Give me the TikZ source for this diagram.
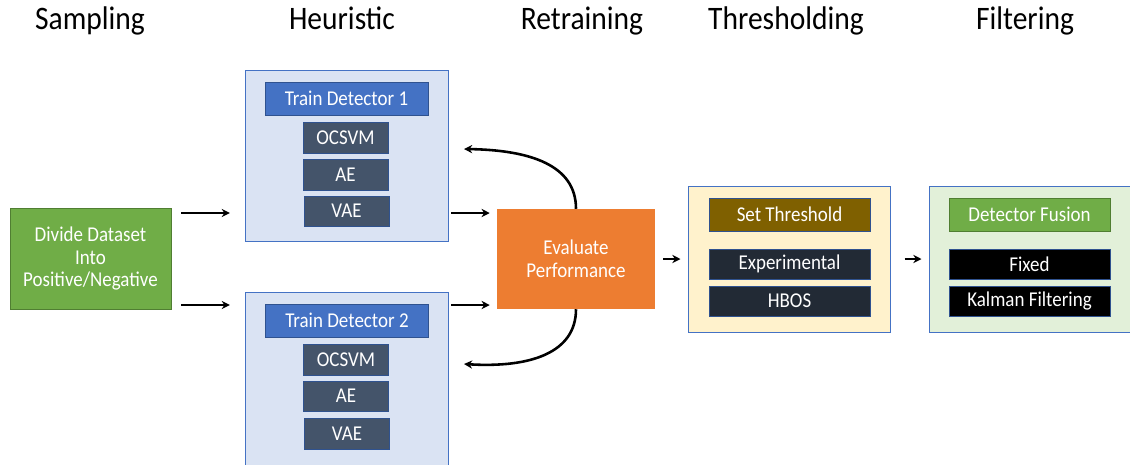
\documentclass[tikz,border=0pt]{standalone}
\usepackage{fontspec}
\setmainfont{Carlito}[FakeStretch=0.9]
\usepackage{tikz}
\usetikzlibrary{arrows.meta}

\definecolor{grn}{HTML}{70AD47}
\definecolor{grnline}{HTML}{507E32}
\definecolor{paleblue}{HTML}{DAE3F3}
\definecolor{boxblue}{HTML}{4472C4}
\definecolor{darkblue}{HTML}{2F528F}
\definecolor{slate}{HTML}{44546A}
\definecolor{orng}{HTML}{ED7D31}
\definecolor{paleyellow}{HTML}{FFF2CC}
\definecolor{gold}{HTML}{7F6000}
\definecolor{navy}{HTML}{222A35}
\definecolor{palegreen}{HTML}{E2F0D9}

\begin{document}
\begin{tikzpicture}[x=0.03cm,y=-0.03cm,
	title/.style={font=\fontsize{28}{30}\selectfont, anchor=base},
	lbl/.style={text=white, font=\fontsize{18}{19.6}\selectfont, align=center, inner sep=0pt},
	outer/.style={draw=boxblue, line width=0.8pt, inner sep=0pt},
	inner/.style={lbl, draw=darkblue, line width=0.8pt},
	arr/.style={-{Stealth[length=7pt,width=7pt]}, line width=2.2pt}]
	\useasboundingbox (0,0) rectangle (1130,464);

	% column titles
	\node[title] (tsamp) at (90,29) {Sampling};
	\node[title] (theur) at (342,29) {Heuristic};
	\node[title] (tretr) at (582,29) {Retraining};
	\node[title] (tthre) at (786,29) {Thresholding};
	\node[title] (tfilt) at (1025,29) {Filtering};

	% sampling
	\node[lbl, fill=grn, draw=grnline, line width=0.8pt, minimum width=4.83cm, minimum height=3.03cm] (divide) at (90.5,258.5) {Divide Dataset\\Into\\Positive/Negative};

	% heuristic
	\node[outer, fill=paleblue, minimum width=6.09cm, minimum height=5.13cm] (heur1) at (346.5,155.5) {};
	\node[inner, fill=boxblue, minimum width=4.89cm, minimum height=0.99cm] (td1) at (346.5,98.5) {Train Detector 1};
	\node[inner, fill=slate, minimum width=2.55cm, minimum height=0.93cm] (ocsvm1) at (345.5,137.5) {OCSVM};
	\node[inner, fill=slate, minimum width=2.55cm, minimum height=0.93cm] (ae1) at (345.5,174.5) {AE};
	\node[inner, fill=slate, minimum width=2.55cm, minimum height=0.9cm] (vae1) at (346.5,211) {VAE};

	\node[outer, fill=paleblue, minimum width=6.09cm, minimum height=5.19cm] (heur2) at (346.5,378.5) {};
	\node[inner, fill=boxblue, minimum width=4.89cm, minimum height=0.99cm] (td2) at (347,320.5) {Train Detector 2};
	\node[inner, fill=slate, minimum width=2.55cm, minimum height=0.93cm] (ocsvm2) at (346,359.5) {OCSVM};
	\node[inner, fill=slate, minimum width=2.55cm, minimum height=0.9cm] (ae2) at (346,396) {AE};
	\node[inner, fill=slate, minimum width=2.55cm, minimum height=0.93cm] (vae2) at (347,433.5) {VAE};

	% retraining
	\node[lbl, fill=orng, minimum width=4.74cm, minimum height=3cm] (eval) at (576,259) {Evaluate\\Performance};

	% thresholding
	\node[outer, fill=paleyellow, minimum width=6.06cm, minimum height=4.38cm] (thresh) at (789,259) {};
	\node[inner, fill=gold, minimum width=4.83cm, minimum height=0.99cm] (setth) at (789.5,214.5) {Set Threshold};
	\node[inner, fill=navy, minimum width=4.83cm, minimum height=0.9cm] (exper) at (789.5,264) {Experimental};
	\node[inner, fill=navy, minimum width=4.83cm, minimum height=0.9cm] (hbos) at (789.5,301) {HBOS};

	% filtering
	\node[outer, fill=palegreen, minimum width=6.06cm, minimum height=4.38cm] (filt) at (1030,259) {};
	\node[inner, fill=grn, draw=grnline, minimum width=4.83cm, minimum height=0.99cm] (fusion) at (1029.5,214.5) {Detector Fusion};
	\node[inner, fill=black, minimum width=4.83cm, minimum height=0.9cm] (fixed) at (1029.5,264) {Fixed};
	\node[inner, fill=black, minimum width=4.83cm, minimum height=0.9cm] (kalman) at (1029.5,301) {Kalman Filtering};

	% arrows
	\draw[arr, shorten <=8.5pt, shorten >=12.5pt] (divide.east |- 0,213) -- (heur1.west |- 0,213);
	\draw[arr, shorten <=8.5pt, shorten >=12.5pt] (divide.east |- 0,305) -- (heur2.west |- 0,305);
	\draw[arr, shorten <=2.5pt, shorten >=6pt] (heur1.east |- 0,213) -- (eval.west |- 0,213);
	\draw[arr, shorten <=2.5pt, shorten >=6pt] (heur2.east |- 0,305) -- (eval.west |- 0,305);
	\draw[arr, shorten <=7pt, shorten >=6pt] (eval.east |- 0,259) -- (thresh.west |- 0,259);
	\draw[arr, shorten <=12pt, shorten >=6pt] (thresh.east |- 0,259) -- (filt.west |- 0,259);

	\coordinate (back1) at (464,149);
	\coordinate (back2) at (464,364);
	\draw[arr] (eval.north) .. controls (576,165) and (530,150) .. (back1);
	\draw[arr] (eval.south) .. controls (576,353) and (530,368) .. (back2);
\end{tikzpicture}
\end{document}
